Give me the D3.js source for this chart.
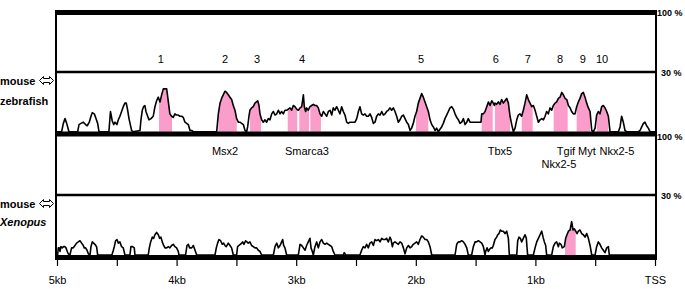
<!DOCTYPE html>
<html><head><meta charset="utf-8">
<script src="https://cdn.jsdelivr.net/npm/d3@7"></script>
<style>body{margin:0;background:#fff;} svg{display:block;} text{font-family:"Liberation Sans",Arial,sans-serif;fill:#000;}</style>
</head><body><svg id="c" width="685" height="289"></svg>
<script>
// position relative to TSS (bp), % identity
const zebrafish = [
[-5000,50],[-4961,50],[-4947,57],[-4933,61],[-4919,57],[-4900,50],
[-4827,50],[-4816,56],[-4800,57],[-4780,58],[-4761,56],[-4747,55],[-4730,58],[-4716,63],[-4705,66],[-4688,65],[-4677,62],[-4660,57],[-4649,50],
[-4566,50],[-4553,67],[-4538,59],[-4526,56],[-4515,58],[-4499,56],[-4487,60],[-4474,63],[-4460,67],[-4446,71],[-4432,74],[-4421,74],[-4409,68],[-4398,61],[-4387,56],[-4376,51],[-4365,50],
[-4306,51],[-4298,60],[-4287,68],[-4276,71],[-4265,72],[-4256,67],[-4242,63],[-4231,60],[-4214,61],[-4195,63],[-4181,71],[-4167,76],[-4153,79],[-4139,75],[-4125,81],[-4111,86],[-4097,86],[-4083,86],[-4069,75],[-4056,65],[-4042,63],[-4028,62],[-4014,65],[-4000,64],[-3986,64],[-3972,63],[-3958,63],[-3944,62],[-3930,58],[-3916,57],[-3902,56],[-3888,51],[-3874,51],[-3860,50],
[-3665,50],[-3651,65],[-3637,74],[-3624,78],[-3610,81],[-3596,84],[-3582,83],[-3568,81],[-3554,79],[-3540,77],[-3526,72],[-3512,68],[-3498,61],[-3484,58],[-3470,58],[-3456,57],[-3442,56],[-3428,51],[-3414,50],[-3406,54],[-3395,63],[-3387,68],[-3373,70],[-3359,71],
[-3345,74],[-3322,76],[-3311,72],[-3303,65],[-3289,60],[-3275,58],[-3261,60],[-3247,58],[-3233,61],[-3219,60],[-3205,65],[-3191,67],[-3177,64],[-3163,65],[-3149,68],[-3135,65],[-3122,67],[-3108,65],[-3094,68],[-3080,68],[-3066,69],[-3052,70],[-3038,68],[-3024,72],[-3010,71],[-2996,69],[-2982,68],[-2968,70],[-2954,71],[-2940,81],[-2932,71],[-2921,67],[-2913,70],[-2899,68],[-2885,71],[-2871,72],[-2857,73],[-2843,72],[-2829,72],[-2815,70],[-2801,65],[-2787,63],[-2773,67],[-2759,65],[-2745,63],[-2731,67],[-2717,68],[-2703,64],[-2690,70],[-2676,68],[-2662,71],[-2648,68],[-2634,65],[-2620,71],[-2606,67],[-2592,64],[-2578,58],[-2564,57],[-2550,58],[-2536,58],[-2522,58],[-2508,58],[-2494,61],[-2480,67],[-2467,71],[-2453,65],[-2439,64],[-2425,65],[-2411,63],[-2397,63],[-2383,65],[-2369,62],[-2355,57],[-2341,58],[-2327,63],[-2313,65],[-2299,64],[-2285,67],[-2271,64],[-2257,65],[-2244,67],[-2230,68],[-2216,70],[-2202,68],[-2188,70],[-2174,67],[-2160,63],[-2146,58],[-2132,60],[-2118,63],[-2104,64],[-2090,61],[-2076,58],[-2062,56],[-2048,51],[-2035,53],[-2021,57],[-2007,63],[-1993,67],[-1979,74],[-1965,78],[-1951,82],[-1937,79],[-1923,75],[-1909,71],[-1895,67],[-1881,60],[-1867,56],[-1853,54],[-1839,51],[-1826,53],[-1812,50],[-1798,52],[-1784,54],[-1770,57],[-1756,61],[-1742,64],[-1728,67],[-1714,70],[-1700,71],[-1686,69],[-1672,65],
[-1658,62],[-1644,60],[-1630,57],[-1616,58],[-1602,61],[-1588,56],[-1574,58],[-1561,61],[-1547,58],[-1533,58],[-1505,58],[-1455,58],[-1449,65],[-1435,65],[-1421,67],[-1407,71],[-1393,75],[-1379,72],[-1365,76],[-1352,74],[-1343,72],[-1338,74],[-1324,73],[-1310,75],[-1296,73],[-1282,77],[-1268,74],[-1254,76],[-1240,78],[-1226,74],[-1212,63],[-1198,56],[-1184,50],[-1170,53],[-1156,60],[-1143,64],[-1129,65],[-1115,63],[-1101,68],[-1087,74],[-1073,81],[-1059,77],[-1045,74],[-1031,71],[-1017,72],[-1003,68],[-989,63],[-975,58],[-961,60],[-947,61],[-933,60],[-919,63],[-906,67],[-892,65],[-878,70],[-864,68],[-850,72],[-836,74],[-822,75],[-808,78],[-794,79],[-780,83],[-766,81],[-752,78],[-738,77],[-724,72],[-710,70],[-697,67],[-683,65],[-669,65],[-655,71],[-641,75],[-627,78],[-613,82],[-599,83],[-585,79],[-571,74],[-557,70],[-543,67],[-529,51],[-515,50],[-501,53],[-488,64],[-474,67],[-460,65],[-446,71],[-432,72],[-418,70],[-404,67],[-390,63],[-376,50],
[-306,50],[-292,54],[-279,63],[-265,58],[-251,51],[-237,50],[-139,50],[-125,51],[-111,54],[-97,57],[-84,58],[-70,55],[-56,53],[-42,50],[0,50]
];
const xenopus = [
[-5000,50],[-4995,50],[-4989,56],[-4981,56],[-4975,53],[-4967,57],[-4956,56],[-4945,57],[-4933,57],[-4925,56],[-4914,53],[-4906,51],
[-4892,50],[-4878,56],[-4864,56],[-4850,58],[-4836,60],[-4822,61],[-4808,62],[-4794,60],[-4780,58],[-4772,56],[-4761,56],[-4749,54],[-4738,51],[-4724,50],[-4716,57],[-4705,61],[-4683,59],[-4669,57],[-4660,50],
[-4543,50],[-4538,51],[-4529,54],[-4521,57],[-4510,62],[-4499,63],[-4487,60],[-4474,61],[-4460,57],[-4446,56],[-4432,50],
[-4390,50],[-4382,57],[-4368,57],[-4354,56],[-4348,50],
[-4237,50],[-4228,56],[-4217,61],[-4203,65],[-4192,64],[-4181,67],[-4167,69],[-4153,67],[-4142,64],[-4131,65],[-4120,61],[-4108,58],[-4097,56],[-4083,56],[-4069,57],[-4056,56],[-4042,58],[-4028,59],[-4014,57],[-4000,56],[-3986,53],[-3980,50],
[-3925,50],[-3913,58],[-3902,59],[-3891,56],[-3874,56],[-3860,58],[-3846,54],[-3832,50],
[-3679,50],[-3668,56],[-3657,60],[-3646,63],[-3632,62],[-3618,59],[-3607,60],[-3596,58],[-3585,57],[-3568,60],[-3554,58],[-3540,56],[-3526,50],
[-3498,50],[-3490,57],[-3479,58],[-3468,59],[-3456,60],[-3448,61],[-3437,59],[-3423,62],[-3412,61],[-3401,60],[-3387,61],[-3373,58],[-3359,57],[-3345,56],[-3331,56],[-3317,54],[-3303,53],[-3289,50],
[-3191,50],[-3177,57],[-3163,60],[-3149,56],[-3135,58],[-3122,61],[-3113,63],[-3105,58],[-3094,56],[-3080,50],
[-2982,50],[-2968,59],[-2954,58],[-2940,56],[-2926,54],[-2913,58],[-2899,61],[-2885,64],[-2876,56],[-2865,53],[-2857,50],[-2843,57],[-2829,61],[-2815,56],[-2801,61],[-2787,63],[-2773,60],[-2759,59],[-2745,60],[-2731,59],[-2717,58],[-2703,57],[-2690,53],[-2676,50],
[-2606,50],[-2598,52],[-2586,50],
[-2467,50],[-2453,54],[-2439,57],[-2425,56],[-2411,59],[-2397,56],[-2383,60],[-2369,61],[-2355,58],[-2341,63],[-2327,62],[-2313,63],[-2299,61],[-2285,64],[-2271,63],[-2257,63],[-2244,64],[-2230,61],[-2216,65],[-2207,63],[-2196,57],[-2188,60],[-2174,61],[-2160,60],[-2146,59],[-2132,61],[-2118,60],[-2104,56],[-2090,51],[-2076,56],[-2062,58],[-2048,56],[-2035,57],[-2021,59],[-2007,60],[-1993,61],[-1979,59],[-1965,63],[-1951,66],[-1937,65],[-1923,63],[-1909,63],[-1895,61],[-1881,57],[-1867,50],
[-1672,50],[-1658,59],[-1644,61],[-1630,61],[-1616,62],[-1602,61],[-1588,59],[-1574,56],[-1561,50],
[-1533,50],[-1519,57],[-1505,61],[-1491,61],[-1477,62],[-1463,61],[-1449,60],[-1435,57],[-1421,50],
[-1416,53],[-1404,56],[-1393,53],[-1382,55],[-1371,56],[-1360,56],[-1352,58],[-1338,63],[-1324,65],[-1315,67],[-1304,68],[-1293,71],[-1282,70],[-1268,70],[-1254,68],[-1240,70],[-1226,64],[-1218,50],
[-1156,50],[-1148,62],[-1137,65],[-1126,64],[-1115,61],[-1101,64],[-1087,67],[-1076,64],[-1065,50],
[-1017,50],[-1003,56],[-989,61],[-975,64],[-961,67],[-947,70],[-936,65],[-925,61],[-914,58],[-906,50],
[-864,50],[-850,57],[-836,60],[-822,61],[-808,57],[-800,60],[-786,59],[-775,56],[-758,57],[-747,64],[-736,67],[-724,70],[-710,71],[-697,78],[-685,71],[-674,72],[-663,70],[-652,68],[-641,70],[-627,71],[-613,68],[-599,67],[-585,65],[-571,68],[-557,64],[-543,58],[-529,50],
[-501,50],[-488,57],[-474,61],[-460,59],[-446,56],[-432,54],[-418,52],[-404,56],[-390,57],[-382,50],[0,50]
];
const zfRegions = [[-4147,-4038],[-3651,-3497],[-3386,-3294],[-3071,-2991],[-2974,-2893],[-2882,-2793],[-1998,-1895],[-1449,-1357],[-1338,-1212],[-1114,-1023],[-847,-730],[-655,-543],[-487,-390]];
const xenRegions = [[-752,-663]];
const regionNames = ["1","2","3","4","5","6","7","8","9","10"];
const regionPos = [-4133,-3595,-3328,-2951,-1956,-1332,-1064,-794,-604,-443];
const geneNames = ["Msx2","Smarca3","Tbx5","Tgif","Myt","Nkx2-5","Nkx2-5"];
const genePos = [-3595,-2910,-1296,-744,-569,-318,-803];
const geneRow = [0,0,0,0,0,0,1];
const tickValues = [-5000,-4500,-4000,-3500,-3000,-2500,-2000,-1500,-1000,-500,0];
const tickLabels = {"-5000":"5kb","-4000":"4kb","-3000":"3kb","-2000":"2kb","-1000":"1kb","0":"TSS"};
const speciesNames = ["zebrafish","Xenopus"];
const pctLabels = ["100 %","30 %"];

const svg = d3.select("#c");
const x = d3.scaleLinear().domain([-5000,0]).range([57,655]);
const PINK = "#fa9dcb";
const panels = [
  {data:zebrafish, regions:zfRegions, top:12.5, mid:72, base:131.7, name:speciesNames[0], italic:false},
  {data:xenopus, regions:xenRegions, top:134, mid:195, base:255, name:speciesNames[1], italic:true}
];
const defs = svg.append("defs");
panels.forEach((p,pi)=>{
  const y = d3.scaleLinear().domain([50,100]).range([p.base, p.base-59.5]);
  const area = d3.area().x(d=>x(d[0])).y0(y(50)).y1(d=>y(d[1]));
  const line = d3.line().x(d=>x(d[0])).y(d=>y(d[1]));
  p.regions.forEach((r,ri)=>{
    const id = `clip${pi}_${ri}`;
    defs.append("clipPath").attr("id",id).append("rect")
      .attr("x",x(r[0])).attr("width",x(r[1])-x(r[0]))
      .attr("y",p.mid).attr("height",p.base-p.mid+2);
    svg.append("path").datum(p.data).attr("d",area).attr("fill",PINK).attr("clip-path",`url(#${id})`);
  });
  svg.append("path").datum(p.data).attr("d",line).attr("fill","none").attr("stroke","#000")
    .attr("stroke-width",1.6).attr("stroke-linejoin","round");
  // labels on the left
  const ly = p.mid + 12.5;
  svg.append("text").attr("x",0).attr("y",ly).attr("font-size",11).attr("font-weight","bold").text("mouse");
  const ax = 39.5, ay = ly-4;
  svg.append("path").attr("d",`M${ax},${ay} L${ax+4},${ay-4} L${ax+4},${ay-2} L${ax+10},${ay-2} L${ax+10},${ay-4} L${ax+14},${ay} L${ax+10},${ay+4} L${ax+10},${ay+2} L${ax+4},${ay+2} L${ax+4},${ay+4} Z`)
    .attr("fill","#fff").attr("stroke","#000").attr("stroke-width",1);
  svg.append("text").attr("x",0).attr("y",pi===0?105:226).attr("font-size",11).attr("font-weight","bold")
    .attr("font-style",p.italic?"italic":"normal").text(p.name);
  // right labels
  svg.append("text").attr("x",657).attr("y",pi===0?15.5:140).attr("font-size",9).attr("font-weight","bold").text(pctLabels[0]);
  svg.append("text").attr("x",661).attr("y",p.mid+4).attr("font-size",9).attr("font-weight","bold").text(pctLabels[1]);
});

// frame
const fx0 = x(-5000)-2, fx1 = x(0)+2;
[[10,5],[131.5,5],[255,5]].forEach(b=>{
  svg.append("rect").attr("x",fx0).attr("y",b[0]).attr("width",fx1-fx0).attr("height",b[1]).attr("fill","#000");
});
[72,195].forEach(yy=>{
  svg.append("line").attr("x1",fx0).attr("x2",fx1).attr("y1",yy).attr("y2",yy).attr("stroke","#000").attr("stroke-width",2.5);
});
[fx0+1, fx1-1].forEach(xx=>{
  svg.append("line").attr("x1",xx).attr("x2",xx).attr("y1",10).attr("y2",260).attr("stroke","#000").attr("stroke-width",2);
});

// region numbers
svg.selectAll("text.rn").data(regionNames).enter().append("text").attr("class","rn")
  .attr("x",(d,i)=>x(regionPos[i])).attr("y",63).attr("text-anchor","middle").attr("font-size",11).text(d=>d);
// gene labels
svg.selectAll("text.gn").data(geneNames).enter().append("text").attr("class","gn")
  .attr("x",(d,i)=>x(genePos[i])).attr("y",(d,i)=>geneRow[i]?168:155).attr("text-anchor","middle").attr("font-size",11).text(d=>d);

// axis
const axis = d3.axisBottom(x).tickValues(tickValues).tickSize(6).tickPadding(10).tickFormat(d=>tickLabels[String(d)]||"");
const g = svg.append("g").attr("transform","translate(0,260)").call(axis);
g.select(".domain").remove();
g.selectAll(".tick line").attr("stroke","#000").attr("stroke-width",1.2);
g.selectAll(".tick text").attr("font-size",11).attr("font-family","Liberation Sans, Arial, sans-serif").attr("fill","#000");
</script></body></html>
